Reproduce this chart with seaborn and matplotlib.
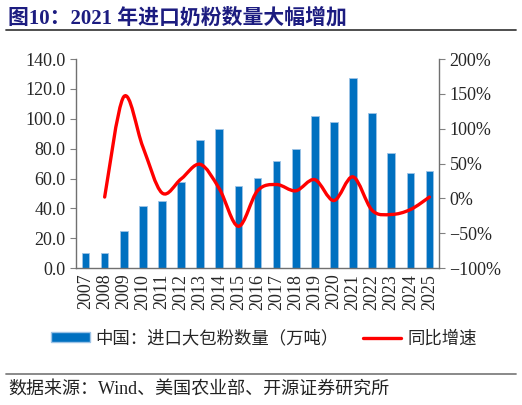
import numpy as np
import pandas as pd
import matplotlib as mpl
mpl.use('Agg')
import matplotlib.pyplot as plt
from matplotlib.path import Path
from matplotlib.patches import PathPatch
from matplotlib.lines import Line2D
import seaborn as sns

# data
years = [str(y) for y in range(2007, 2026)]
imports = [9.9, 10.3, 24.6, 41.6, 45.2, 57.5, 85.7, 92.9, 55.0, 60.4,
           71.8, 80.1, 101.6, 98.2, 127.5, 103.6, 77.4, 64.0, 65.1]
growth = [np.nan, 2, 146, 74, 8, 28, 49, 14, -40, 11,
          20, 11, 27, -3, 31, -17, -23, -16, 2]

bar_label = "中国：进口大包粉数量（万吨）"
line_label = "同比增速"

sns.set_style("white")
mixed = ['Liberation Serif', 'Noto Sans CJK SC', 'DejaVu Sans']
plt.rcParams['font.family'] = mixed

fig = plt.figure(figsize=(5.22, 4.05), dpi=100)
ax = fig.add_axes([0.1456, 0.338, 0.6954, 0.516])

df = pd.DataFrame({"year": years, "imports": imports})
sns.barplot(data=df, x="year", y="imports", color="#0070C0", width=0.4,
            edgecolor="#9DC3E6", linewidth=0.6, saturation=1, ax=ax)
ax.set_xlim(-0.5, len(years) - 0.5)
ax.set_ylim(0, 140)
ax.set_yticks(np.arange(0, 141, 20))
ax.yaxis.set_major_formatter(mpl.ticker.StrMethodFormatter("{x:.1f}"))
ax.set_xlabel("")
ax.set_ylabel("")
ax.tick_params(axis='x', length=0, labelsize=13, rotation=90, pad=4)
ax.set_xticks(np.arange(len(years)) + 0.5, minor=True)
ax.tick_params(axis='x', which='minor', direction='in', length=4, color='#808080')
ax.tick_params(axis='y', direction='out', length=4, color='#808080', labelsize=13, left=True)

# smoothed growth line (Excel style bezier between points)
ax2 = ax.twinx()
xs = np.arange(len(years))[1:].astype(float)
ys = np.array(growth[1:], dtype=float)
verts = [(xs[0], ys[0])]
codes = [Path.MOVETO]
for i in range(len(xs) - 1):
    p0 = np.array([xs[max(i - 1, 0)], ys[max(i - 1, 0)]])
    p1 = np.array([xs[i], ys[i]])
    p2 = np.array([xs[i + 1], ys[i + 1]])
    p3 = np.array([xs[min(i + 2, len(xs) - 1)], ys[min(i + 2, len(xs) - 1)]])
    c1 = p1 + (p2 - p0) / 6
    c2 = p2 - (p3 - p1) / 6
    verts += [tuple(c1), tuple(c2), tuple(p2)]
    codes += [Path.CURVE4] * 3
ax2.add_patch(PathPatch(Path(verts, codes), fill=False, edgecolor='#FF0000',
                        lw=2.4, capstyle='round', joinstyle='round'))
ax2.set_ylim(-100, 200)
ax2.set_yticks(np.arange(-100, 201, 50))
ax2.yaxis.set_major_formatter(mpl.ticker.StrMethodFormatter("{x:.0f}%"))
ax2.tick_params(axis='y', direction='out', length=4, color='#808080', labelsize=13, right=True)
ax2.set_xlim(-0.5, len(years) - 0.5)

for a in (ax, ax2):
    for s in ('left', 'right', 'bottom'):
        a.spines[s].set_color('#707070')
        a.spines[s].set_linewidth(1)
    a.spines['top'].set_visible(False)
ax.spines['right'].set_visible(False)
ax2.spines['left'].set_visible(False)
ax2.spines['bottom'].set_visible(False)

handles = [mpl.patches.Patch(facecolor="#0070C0", edgecolor="#9DC3E6", label=bar_label),
           Line2D([], [], color='#FF0000', lw=2.4, label=line_label)]
fig.legend(handles=handles, loc='center', bbox_to_anchor=(0.506, 0.165), ncol=2,
           frameon=False, prop={'family': ['Noto Sans CJK SC'], 'size': 12.5},
           handlelength=2.2, handleheight=0.45, handletextpad=0.35, columnspacing=1.4)

fig.text(0.015, 0.955, "图10：2021 年进口奶粉数量大幅增加", fontsize=15, fontweight='bold',
         color='#1C1C80', family=mixed, va='center', ha='left')
fig.add_artist(Line2D([0.012, 0.988], [0.926, 0.926], color='#404040', lw=1.3))
fig.add_artist(Line2D([0.012, 0.988], [0.076, 0.076], color='#808080', lw=1.3))
fig.text(0.015, 0.04, "数据来源：Wind、美国农业部、开源证券研究所", fontsize=13,
         color='#222222', family=mixed, va='center', ha='left')

fig.savefig("out.png", dpi=100)
